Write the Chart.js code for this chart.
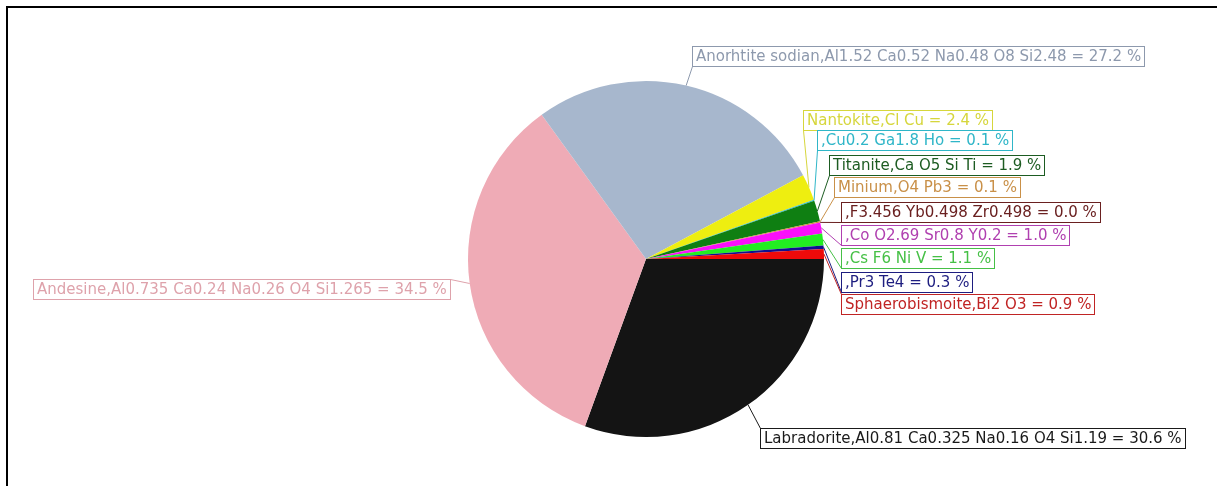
<!DOCTYPE html>
<html>
<head>
<meta charset="utf-8">
<script src="https://cdn.jsdelivr.net/npm/chart.js@4"></script>
<style>
  html, body { margin: 0; padding: 0; background: #fff; }
  .wrap { position: relative; width: 1217px; height: 486px; overflow: hidden; }
  .frame { position: absolute; left: 6px; top: 6px; width: 1400px; height: 700px;
           border-left: 2.5px solid #000; border-top: 2.5px solid #000; }
  canvas { position: absolute; left: 0; top: 0; }
</style>
</head>
<body>
<div class="wrap">
  <div class="frame"></div>
  <canvas id="myChart" width="1217" height="486"></canvas>
</div>
<script>
// phases, clockwise from 3 o'clock
const minerals = ['Labradorite', 'Andesine', 'Anorhtite sodian', 'Nantokite', '', 'Titanite',
                  'Minium', '', '', '', '', 'Sphaerobismoite'];
const formulas = ['Al0.81 Ca0.325 Na0.16 O4 Si1.19', 'Al0.735 Ca0.24 Na0.26 O4 Si1.265',
                  'Al1.52 Ca0.52 Na0.48 O8 Si2.48', 'Cl Cu', 'Cu0.2 Ga1.8 Ho', 'Ca O5 Si Ti',
                  'O4 Pb3', 'F3.456 Yb0.498 Zr0.498', 'Co O2.69 Sr0.8 Y0.2', 'Cs F6 Ni V',
                  'Pr3 Te4', 'Bi2 O3'];
const percents = [30.6, 34.5, 27.2, 2.4, 0.1, 1.9, 0.1, 0.0, 1.0, 1.1, 0.3, 0.9];

const sliceColors = ['#141414', '#efabb6', '#a7b7cd', '#eeee10', '#30c0d0', '#0f7f12',
                     '#d09040', '#800000', '#fa10fa', '#22ee22', '#101090', '#ee0a0a'];
const labelColors = ['#1a1a1a', '#dea2ab', '#8d99ad', '#d6d63c', '#2fb6c8', '#1d5c22',
                     '#c99048', '#6a2020', '#b040b0', '#46c046', '#1e1e80', '#c02424'];

// box position (left, top) and which corner the leader line goes to
const labelBoxes = [
  { x: 760, y: 428, anchor: 'tl' },
  { x: 33,  y: 279, anchor: 'tr' },
  { x: 692, y: 46,  anchor: 'bl' },
  { x: 803, y: 110, anchor: 'bl' },
  { x: 817, y: 130, anchor: 'bl' },
  { x: 829, y: 155, anchor: 'bl' },
  { x: 834, y: 177, anchor: 'bl' },
  { x: 841, y: 202, anchor: 'bl' },
  { x: 841, y: 225, anchor: 'bl' },
  { x: 841, y: 248, anchor: 'bl' },
  { x: 841, y: 272, anchor: 'bl' },
  { x: 841, y: 294, anchor: 'tl' }
];

const labelText = (i) => `${minerals[i]},${formulas[i]} = ${percents[i].toFixed(1)} %`;

const boxLabels = {
  id: 'boxLabels',
  afterDraw(chart) {
    const ctx = chart.ctx;
    const arcs = chart.getDatasetMeta(0).data;
    ctx.save();
    ctx.font = '15px "DejaVu Sans"';
    ctx.textBaseline = 'middle';
    ctx.lineWidth = 1;
    const h = 20;
    arcs.forEach((arc, i) => {
      const p = arc.getProps(['x', 'y', 'startAngle', 'endAngle', 'outerRadius'], true);
      const mid = (p.startAngle + p.endAngle) / 2;
      const ex = p.x + Math.cos(mid) * p.outerRadius;
      const ey = p.y + Math.sin(mid) * p.outerRadius;
      const box = labelBoxes[i];
      const txt = labelText(i);
      const w = Math.round(ctx.measureText(txt).width) + 7;
      const ax = box.anchor.includes('r') ? box.x + w : box.x;
      const ay = box.anchor.includes('b') ? box.y + h : box.y;
      ctx.strokeStyle = labelColors[i];
      ctx.beginPath();
      ctx.moveTo(ex, ey);
      ctx.lineTo(ax + 0.5, ay + 0.5);
      ctx.stroke();
      ctx.fillStyle = '#fff';
      ctx.fillRect(box.x, box.y, w, h);
      ctx.strokeRect(box.x + 0.5, box.y + 0.5, w, h);
      ctx.fillStyle = labelColors[i];
      ctx.fillText(txt, box.x + 4, box.y + h / 2 + 1);
    });
    ctx.restore();
  }
};

new Chart(document.getElementById('myChart'), {
  type: 'pie',
  data: {
    labels: minerals.map((m, i) => labelText(i)),
    datasets: [{
      data: percents,
      backgroundColor: sliceColors,
      borderWidth: 0
    }]
  },
  options: {
    responsive: false,
    animation: false,
    rotation: 90,
    layout: { padding: { left: 400, right: 325, top: 81, bottom: 49 } },
    plugins: { legend: { display: false }, tooltip: { enabled: false } }
  },
  plugins: [boxLabels]
});
</script>
</body>
</html>
